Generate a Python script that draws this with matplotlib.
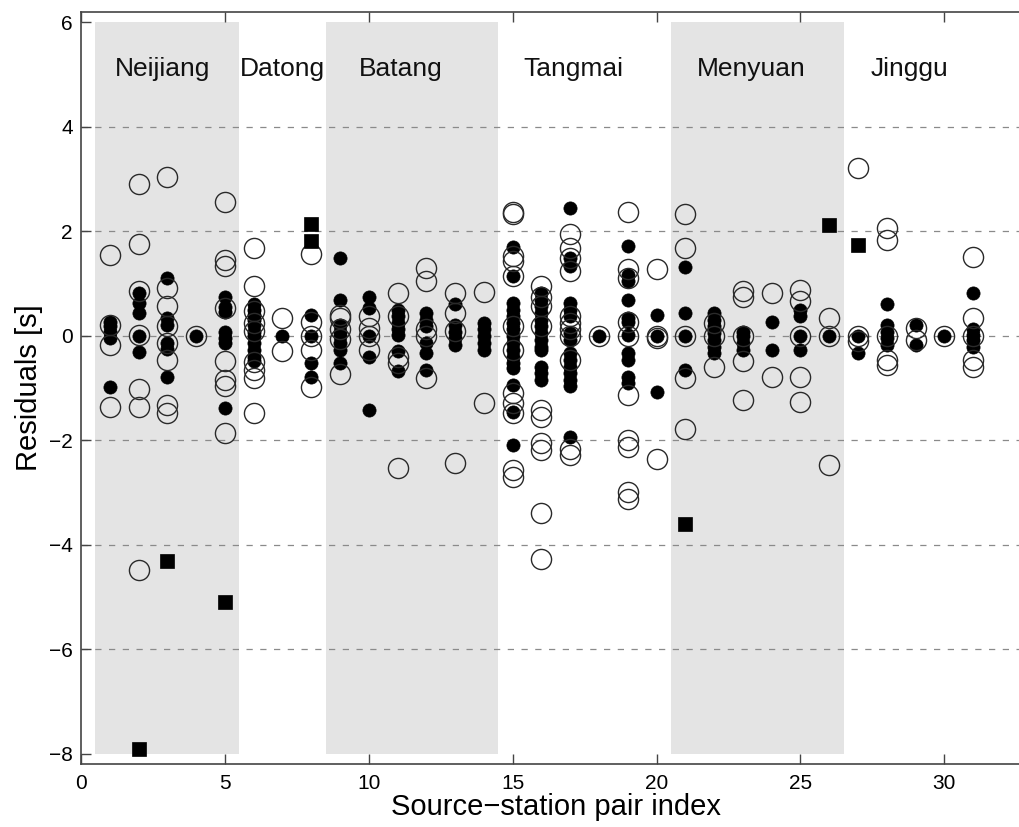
import matplotlib
matplotlib.use("Agg")
import matplotlib.pyplot as plt
from matplotlib.patches import Rectangle

plt.rcParams['font.family'] = ['Liberation Sans', 'DejaVu Sans']

# Residuals per source-station pair (index 1..31)
pair_index = list(range(1, 32))

open_res = [
    [1.54, 0.21, -0.17, -1.37],
    [2.90, 1.75, 0.85, 0.02, -1.02, -1.37, -4.49],
    [3.03, 0.92, 0.56, 0.18, -0.14, -0.47, -1.32, -1.47],
    [0.0],
    [2.55, 1.44, 1.33, 0.53, -0.49, -0.84, -0.97, -1.86],
    [1.68, 0.96, 0.48, 0.25, 0.10, -0.50, -0.65, -0.81, -1.48],
    [0.33, -0.30],
    [1.57, 0.27, 0.0, -0.27, -0.98],
    [0.40, 0.34, 0.12, -0.07, -0.73],
    [0.37, 0.15, -0.01, -0.27],
    [0.82, 0.37, -0.40, -0.52, -2.54],
    [1.30, 1.04, 0.12, 0.0, -0.81],
    [0.81, 0.44, 0.10, -2.43],
    [0.83, -1.29],
    [2.36, 2.32, 1.52, 1.43, 1.14, 0.18, -0.27, -1.10, -1.29, -1.48, -2.57, -2.70],
    [0.95, 0.75, 0.56, 0.18, -1.42, -1.55, -2.06, -2.19, -3.40, -4.28],
    [1.94, 1.68, 1.49, 1.23, 0.37, 0.24, 0.12, 0.0, -0.46, -2.16, -2.28],
    [0.0],
    [2.36, 1.27, 1.11, 0.27, 0.0, -1.13, -2.00, -2.12, -2.99, -3.12],
    [1.27, 0.0, -0.05, -2.35],
    [2.32, 1.68, 0.0, -0.81, -1.79],
    [0.25, 0.0, -0.59],
    [0.85, 0.75, 0.0, -0.49, -1.23],
    [0.81, -0.78],
    [0.88, 0.66, 0.0, -0.78, -1.26],
    [0.34, 0.0, -2.48],
    [3.20, 0.0, -0.11],
    [2.07, 1.83, 0.0, -0.46, -0.56],
    [0.15, -0.08],
    [0.0],
    [1.51, 0.34, 0.0, -0.46, -0.59],
]

filled_res = [
    [0.27, 0.18, 0.08, -0.04, -0.98],
    [0.82, 0.63, 0.44, 0.0, -0.31],
    [1.11, 0.34, 0.21, -0.13, -0.26, -0.79],
    [0.0],
    [0.75, 0.55, 0.45, 0.08, -0.04, -0.14, -1.39],
    [0.60, 0.50, 0.40, 0.31, 0.21, 0.08, -0.01, -0.14, -0.27, -0.40, -0.49],
    [0.0],
    [0.40, 0.0, -0.52, -0.78],
    [1.49, 0.68, 0.21, 0.08, -0.01, -0.14, -0.27, -0.52],
    [0.75, 0.53, 0.0, -0.40, -1.42],
    [0.50, 0.37, 0.24, 0.12, 0.02, -0.30, -0.68],
    [0.44, 0.31, 0.18, -0.14, -0.33, -0.65],
    [0.61, 0.21, 0.08, -0.04, -0.17],
    [0.24, 0.12, -0.01, -0.14, -0.27],
    [1.70, 1.14, 0.63, 0.50, 0.37, 0.24, 0.12, -0.01, -0.14, -0.27, -0.40,
     -0.52, -0.62, -0.94, -1.45, -2.09],
    [0.82, 0.69, 0.56, 0.44, 0.31, 0.18, 0.05, -0.08, -0.21, -0.27, -0.59,
     -0.72, -0.84],
    [2.45, 1.49, 1.33, 0.63, 0.50, 0.37, 0.05, -0.08, -0.33, -0.46, -0.59,
     -0.72, -0.84, -0.97, -1.93],
    [0.0],
    [1.72, 1.17, 1.04, 0.69, 0.34, 0.27, 0.02, -0.33, -0.46, -0.78, -0.91],
    [0.40, 0.0, -1.07],
    [1.31, 0.44, 0.0, -0.65],
    [0.44, 0.31, 0.18, 0.05, -0.08, -0.21, -0.33],
    [0.08, -0.01, -0.14, -0.27],
    [0.27, -0.27],
    [0.50, 0.37, 0.0, -0.27],
    [0.0],
    [0.0, -0.33],
    [0.60, 0.21, 0.08, -0.04, -0.17],
    [0.21, -0.17],
    [0.0],
    [0.81, 0.12, 0.02, -0.08, -0.21],
]

square_res = [
    [], [-7.91], [-4.31], [], [-5.10], [], [], [2.13, 1.81], [], [], [], [],
    [], [], [], [], [], [], [], [], [-3.60], [], [], [], [], [2.11], [1.73],
    [], [], [], [],
]

# Station groups: name, first index, last index, shaded?
station_names = ["Neijiang", "Datong", "Batang", "Tangmai", "Menyuan", "Jinggu"]
station_first = [1, 6, 9, 15, 21, 27]
station_last = [5, 8, 14, 20, 26, 31]
station_shaded = [True, False, True, False, True, False]
label_x = [2.85, 7.0, 11.1, 17.1, 23.3, 28.8]
label_y = 5.1

fig = plt.figure(figsize=(10.2, 8.27), dpi=100)
ax = fig.add_axes([81 / 1020, 1 - 764.3 / 827, 949.7 / 1020, 752.6 / 827])
ax.set_xlim(0, 33)
ax.set_ylim(-8.2, 6.2)

# shaded station blocks
for first, last, shaded in zip(station_first, station_last, station_shaded):
    if shaded:
        ax.add_patch(Rectangle((first - 0.5, -8), last - first + 1, 14,
                               facecolor="#e4e4e4", edgecolor="none", zorder=0))

for name, lx in zip(station_names, label_x):
    ax.text(lx, label_y, name, ha="center", va="center", fontsize=19,
            color="#111111", zorder=5)

# dashed reference lines
for yv in [-6, -4, -2, 0, 2, 4]:
    ax.axhline(yv, color="#8a8a8a", lw=0.9, ls=(0, (5, 6)), zorder=1)

def flatten(groups):
    xs, ys = [], []
    for idx, vals in zip(pair_index, groups):
        xs.extend([idx] * len(vals))
        ys.extend(vals)
    return xs, ys

fx, fy = flatten(filled_res)
ax.plot(fx, fy, "o", ms=9.5, mfc="black", mec="black", mew=0.5, zorder=3)

ox, oy = flatten(open_res)
ax.plot(ox, oy, "o", ms=14.5, mfc="none", mec="#2a2a2a", mew=1.0, zorder=4)

sx, sy = flatten(square_res)
ax.plot(sx, sy, "s", ms=10, mfc="black", mec="black", mew=0.5, zorder=4)

ax.set_xticks([0, 5, 10, 15, 20, 25, 30])
ax.set_yticks([-8, -6, -4, -2, 0, 2, 4, 6])
ax.tick_params(direction="in", length=7, width=1.0, color="#444444",
               labelsize=15, top=True, right=True)
ax.tick_params(axis="x", pad=7)
ax.tick_params(axis="y", pad=6)
for sp in ax.spines.values():
    sp.set_color("#444444")
    sp.set_linewidth(1.2)

ax.set_xlabel("Source\u2212station pair index", fontsize=21, labelpad=0)
ax.set_ylabel("Residuals [s]", fontsize=21, labelpad=4)

fig.savefig("out.png", dpi=100)
